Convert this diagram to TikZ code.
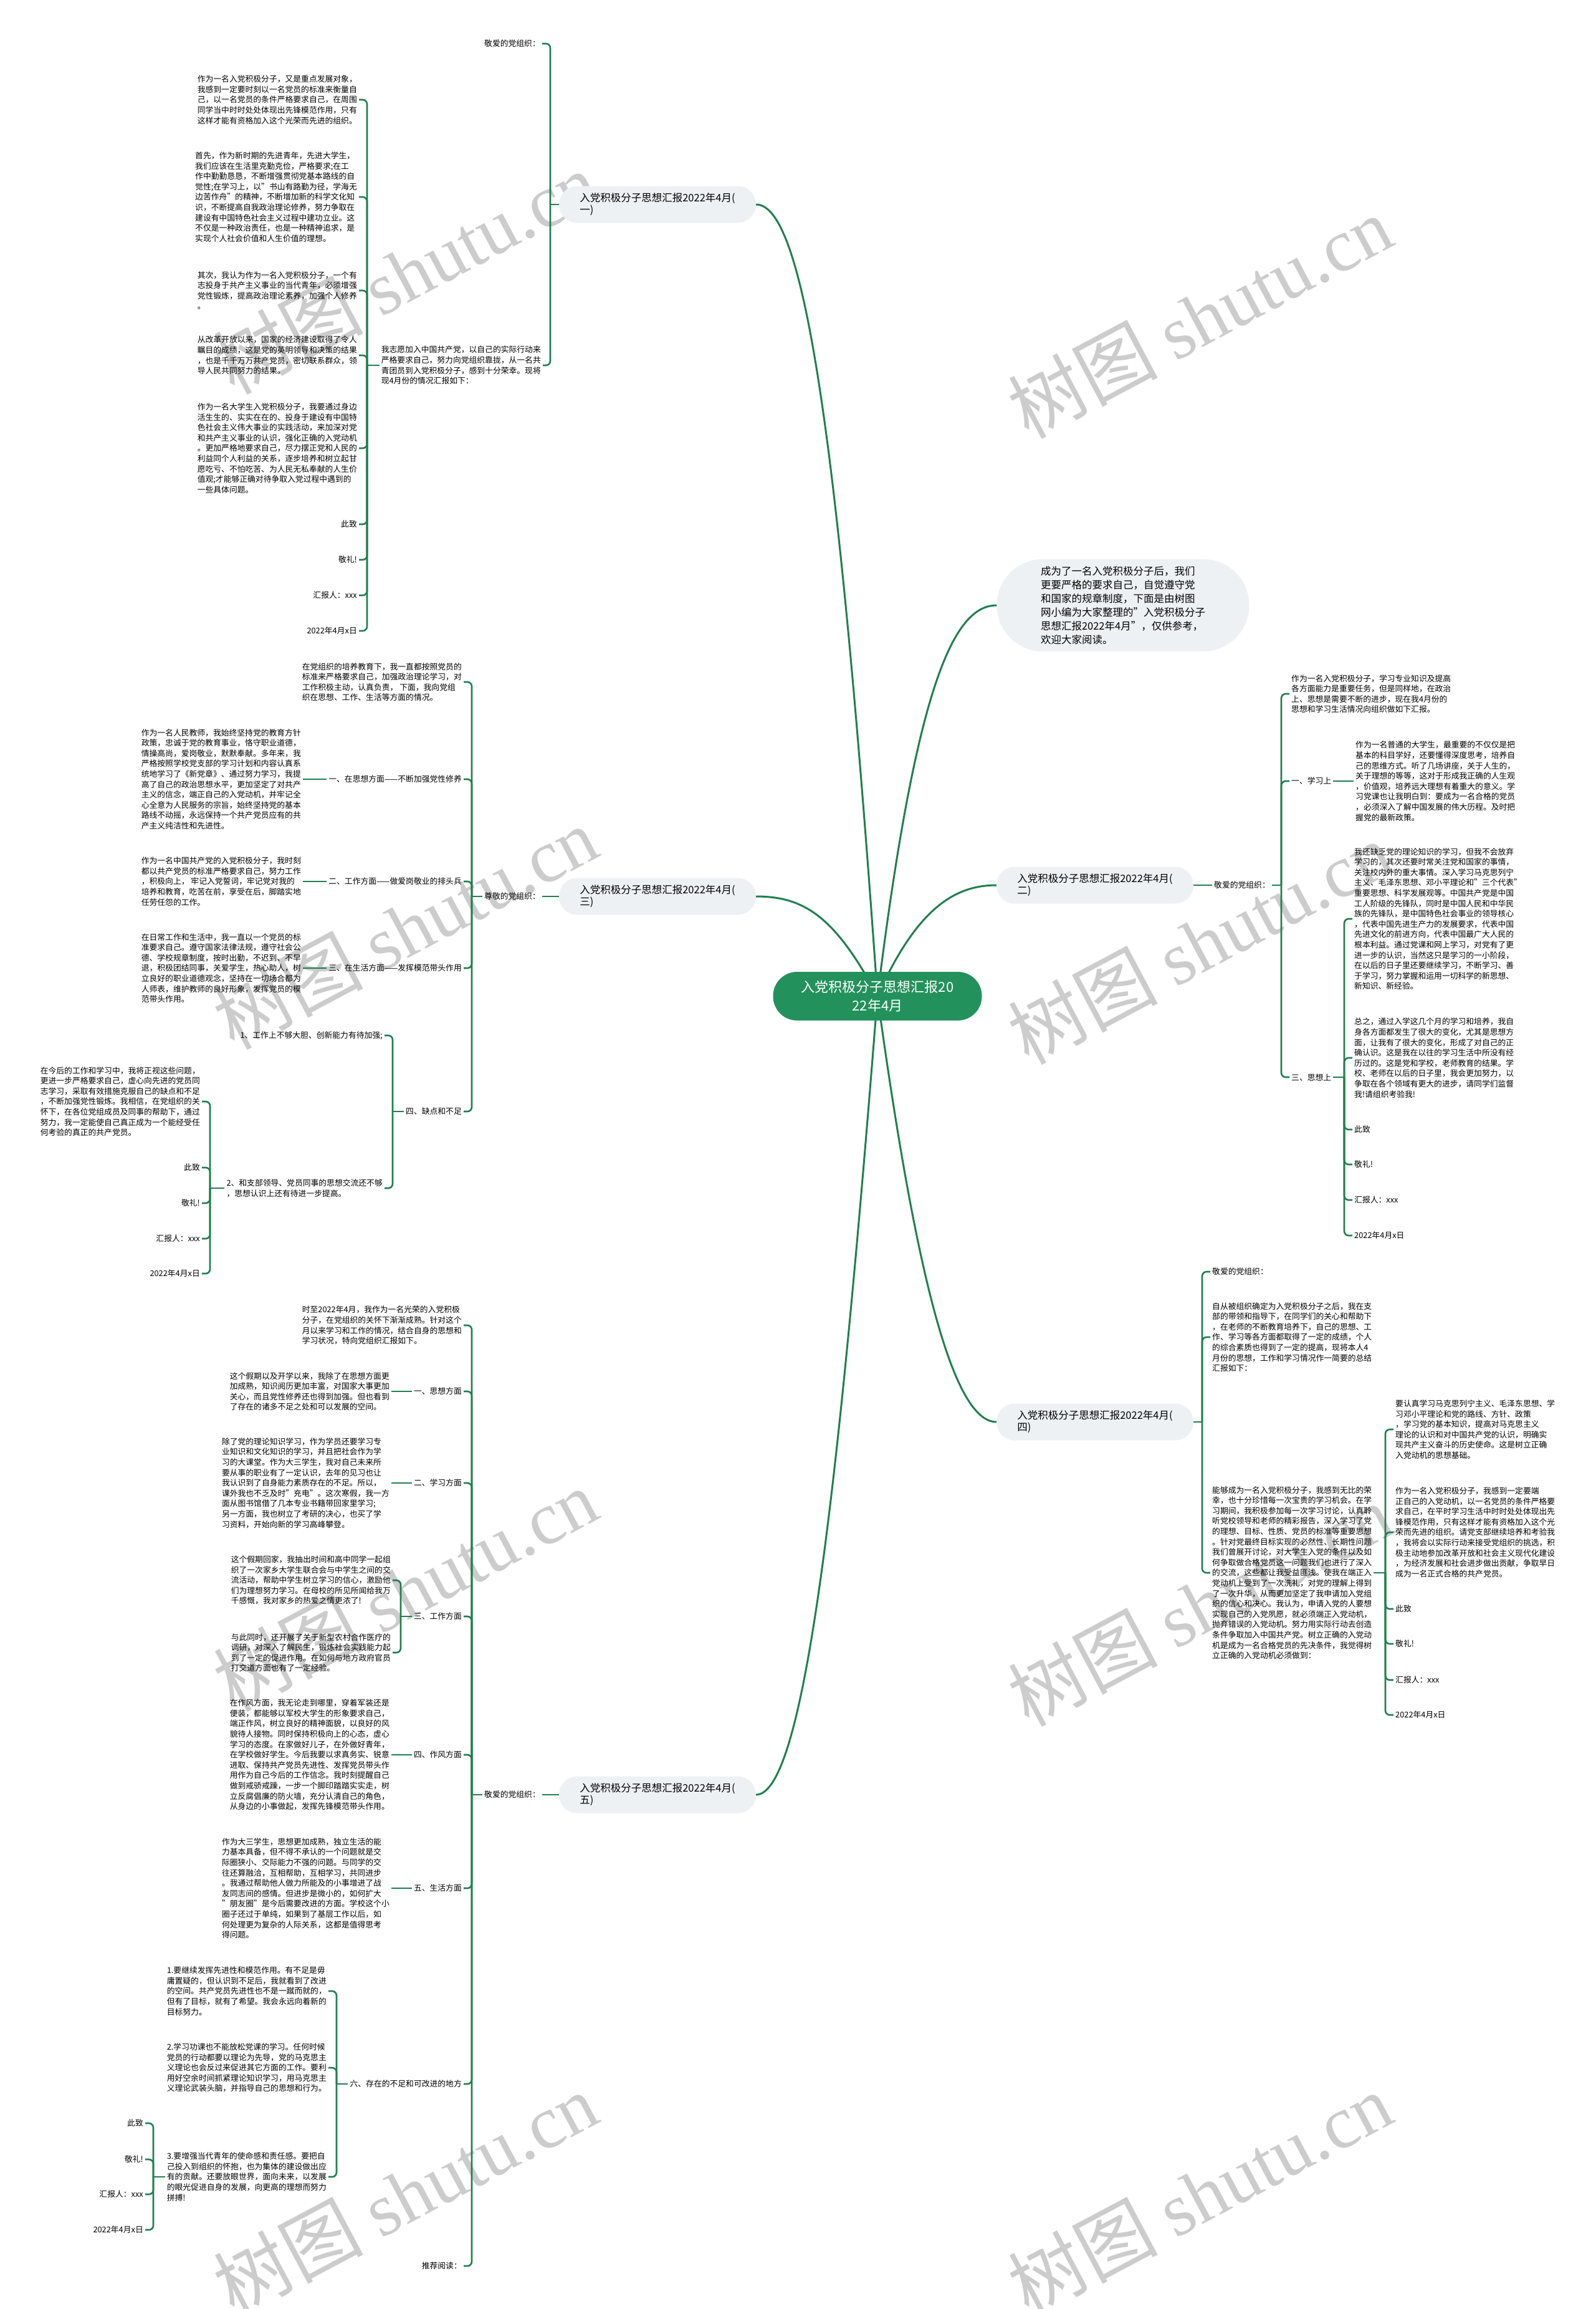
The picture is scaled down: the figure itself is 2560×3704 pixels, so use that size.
\documentclass[tikz,border=0pt]{standalone}
\usepackage{fontspec}
\setmainfont{Noto Sans CJK SC}
\newfontfamily\stampfont{Liberation Serif}
\usetikzlibrary{positioning}
\definecolor{linkgreen}{HTML}{1E7F4F}
\definecolor{hubgreen}{HTML}{23915B}
\definecolor{pillgrey}{HTML}{EEF1F4}

\begin{document}
\begin{tikzpicture}[
    x=1pt, y=-1pt,
    hub/.style={fill=hubgreen, text=white, rounded corners=38.5pt, minimum width=335pt, minimum height=78pt, align=center, font=\fontsize{22}{30}\selectfont},
    branch/.style={fill=pillgrey, rounded corners=29pt, minimum width=316pt, minimum height=59pt, align=left, font=\fontsize{16.5}{19}\selectfont},
    intro/.style={fill=pillgrey, rounded corners=73.5pt, minimum width=405pt, minimum height=148pt, align=left, font=\fontsize{16.5}{22}\selectfont},
    leaf/.style={inner xsep=3pt, inner ysep=2pt, align=left, font=\fontsize{12.8}{16.6}\selectfont},
    link/.style={draw=linkgreen, line width=2.6pt, rounded corners=7pt},
    trunk/.style={draw=linkgreen, line width=3pt},
    stamp/.style={text=black!20, rotate=28, font=\fontsize{120}{130}\selectfont}
  ]
  \useasboundingbox[fill=white] (0,0) rectangle (2560,3704);

  % watermarks
  \foreach \wx/\wy in {650/437, 1925/508, 650/1488, 1925/1512, 650/2550, 1925/2574, 650/3519, 1925/3519}
    \node[stamp] at (\wx,\wy) {树图 {\stampfont shutu.cn}};

  % ---- branch one (top left)
  \node[branch] (b1) at (1055,328) {入党积极分子思想汇报2022年4月(\\一)};
  \node[leaf, anchor=east] (b1g) at (870,70) {敬爱的党组织：};
  \node[leaf, anchor=east] (b1w) at (871,586) {我志愿加入中国共产党，以自己的实际行动来\\严格要求自己，努力向党组织靠拢，从一名共\\青团员到入党积极分子，感到十分荣幸。现将\\现4月份的情况汇报如下：};
  \node[leaf, anchor=east] (b1p1) at (576,160) {作为一名入党积极分子，又是重点发展对象，\\我感到一定要时刻以一名党员的标准来衡量自\\己，以一名党员的条件严格要求自己，在周围\\同学当中时时处处体现出先锋模范作用，只有\\这样才能有资格加入这个光荣而先进的组织。};
  \node[leaf, anchor=east] (b1p2) at (576,316) {首先，作为新时期的先进青年，先进大学生，\\我们应该在生活里克勤克俭，严格要求;在工\\作中勤勤恳恳，不断增强贯彻党基本路线的自\\觉性;在学习上，以"书山有路勤为径，学海无\\边苦作舟"的精神，不断增加新的科学文化知\\识，不断提高自我政治理论修养，努力争取在\\建设有中国特色社会主义过程中建功立业。这\\不仅是一种政治责任，也是一种精神追求，是\\实现个人社会价值和人生价值的理想。};
  \node[leaf, anchor=east] (b1p3) at (576,466) {其次，我认为作为一名入党积极分子，一个有\\志投身于共产主义事业的当代青年，必须增强\\党性锻炼，提高政治理论素养，加强个人修养\\。};
  \node[leaf, anchor=east] (b1p4) at (576,570) {从改革开放以来，国家的经济建设取得了令人\\瞩目的成绩，这是党的英明领导和决策的结果\\，也是千千万万共产党员，密切联系群众，领\\导人民共同努力的结果。};
  \node[leaf, anchor=east] (b1p5) at (576,719) {作为一名大学生入党积极分子，我要通过身边\\活生生的、实实在在的、投身于建设有中国特\\色社会主义伟大事业的实践活动，来加深对党\\和共产主义事业的认识，强化正确的入党动机\\。更加严格地要求自己，尽力摆正党和人民的\\利益同个人利益的关系，逐步培养和树立起甘\\愿吃亏、不怕吃苦、为人民无私奉献的人生价\\值观;才能够正确对待争取入党过程中遇到的\\一些具体问题。};
  \node[leaf, anchor=east] (b1c) at (576,841) {此致};
  \node[leaf, anchor=east] (b1s) at (576,898) {敬礼!};
  \node[leaf, anchor=east] (b1r) at (576,955) {汇报人：xxx};
  \node[leaf, anchor=east] (b1d) at (576,1012) {2022年4月x日};

  \coordinate (b1k) at (883,328);
  \coordinate (b1j) at (589,586);
  \draw[link] (b1.west) -- (b1k);
  \foreach \n in {b1g,b1w}
    \draw[link] (b1k) |- (\n.east);
  \draw[link] (b1w.west) -- (b1j);
  \foreach \n in {b1p1,b1p2,b1p3,b1p4,b1p5,b1c,b1s,b1r,b1d}
    \draw[link] (b1j) |- (\n.east);

  % ---- branch three (middle left)
  \node[branch] (b3) at (1055,1438) {入党积极分子思想汇报2022年4月(\\三)};
  \node[leaf, anchor=east] (b3g) at (870,1438) {尊敬的党组织：};
  \node[leaf, anchor=east] (b3a) at (744,1094) {在党组织的培养教育下，我一直都按照党员的\\标准来严格要求自己，加强政治理论学习，对\\工作积极主动，认真负责， 下面，我向党组\\织在思想、工作、生活等方面的情况。};
  \node[leaf, anchor=east] (b3s1) at (744,1250) {一、在思想方面——不断加强党性修养};
  \node[leaf, anchor=east] (b3s2) at (744,1414) {二、工作方面——做爱岗敬业的排头兵};
  \node[leaf, anchor=east] (b3s3) at (744,1553) {三、在生活方面——发挥模范带头作用};
  \node[leaf, anchor=east] (b3s4) at (744,1783) {四、缺点和不足};
  \node[leaf, anchor=east] (b3t1) at (486,1250) {作为一名人民教师，我始终坚持党的教育方针\\政策，忠诚于党的教育事业，恪守职业道德，\\情操高尚，爱岗敬业，默默奉献。多年来，我\\严格按照学校党支部的学习计划和内容认真系\\统地学习了《新党章》、通过努力学习，我提\\高了自己的政治思想水平，更加坚定了对共产\\主义的信念，端正自己的入党动机，并牢记全\\心全意为人民服务的宗旨，始终坚持党的基本\\路线不动摇，永远保持一个共产党员应有的共\\产主义纯洁性和先进性。};
  \node[leaf, anchor=east] (b3t2) at (486,1414) {作为一名中国共产党的入党积极分子，我时刻\\都以共产党员的标准严格要求自己，努力工作\\，积极向上， 牢记入党誓词，牢记党对我的\\培养和教育，吃苦在前，享受在后，脚踏实地\\任劳任怨的工作。};
  \node[leaf, anchor=east] (b3t3) at (486,1553) {在日常工作和生活中，我一直以一个党员的标\\准要求自己。遵守国家法律法规，遵守社会公\\德、学校规章制度，按时出勤，不迟到、不早\\退，积极团结同事，关爱学生，热心助人，树\\立良好的职业道德观念，坚持在一切场合都为\\人师表，维护教师的良好形象，发挥党员的模\\范带头作用。};
  \node[leaf, anchor=east] (b3f1) at (617,1661) {1、工作上不够大胆、创新能力有待加强;};
  \node[leaf, anchor=east] (b3f2) at (617,1906) {2、和支部领导、党员同事的思想交流还不够\\，思想认识上还有待进一步提高。};
  \node[leaf, anchor=east] (b3e) at (324,1767) {在今后的工作和学习中，我将正视这些问题，\\更进一步严格要求自己，虚心向先进的党员同\\志学习，采取有效措施克服自己的缺点和不足\\，不断加强党性锻炼。我相信，在党组织的关\\怀下，在各位党组成员及同事的帮助下，通过\\努力，我一定能使自己真正成为一个能经受任\\何考验的真正的共产党员。};
  \node[leaf, anchor=east] (b3c) at (324,1873) {此致};
  \node[leaf, anchor=east] (b3s) at (324,1930) {敬礼!};
  \node[leaf, anchor=east] (b3r) at (324,1987) {汇报人：xxx};
  \node[leaf, anchor=east] (b3d) at (324,2043) {2022年4月x日};

  \coordinate (b3k) at (757,1438);
  \coordinate (b3m) at (630,1783);
  \coordinate (b3n) at (337,1906);
  \draw[link] (b3.west) -- (b3g.east);
  \draw[link] (b3g.west) -- (b3k);
  \foreach \n in {b3a,b3s1,b3s2,b3s3,b3s4}
    \draw[link] (b3k) |- (\n.east);
  \draw[link] (b3s1.west) -- (b3t1.east);
  \draw[link] (b3s2.west) -- (b3t2.east);
  \draw[link] (b3s3.west) -- (b3t3.east);
  \draw[link] (b3s4.west) -- (b3m);
  \foreach \n in {b3f1,b3f2}
    \draw[link] (b3m) |- (\n.east);
  \draw[link] (b3f2.west) -- (b3n);
  \foreach \n in {b3e,b3c,b3s,b3r,b3d}
    \draw[link] (b3n) |- (\n.east);

  % ---- branch five (bottom left)
  \node[branch] (b5) at (1055,2879) {入党积极分子思想汇报2022年4月(\\五)};
  \node[leaf, anchor=east] (b5g) at (870,2879) {敬爱的党组织：};
  \node[leaf, anchor=east] (b5a) at (744,2126) {时至2022年4月，我作为一名光荣的入党积极\\分子，在党组织的关怀下渐渐成熟。针对这个\\月以来学习和工作的情况，结合自身的思想和\\学习状况，特向党组织汇报如下。};
  \node[leaf, anchor=east] (b5s1) at (744,2232) {一、思想方面};
  \node[leaf, anchor=east] (b5s2) at (744,2379) {二、学习方面};
  \node[leaf, anchor=east] (b5s3) at (744,2593) {三、工作方面};
  \node[leaf, anchor=east] (b5s4) at (744,2815) {四、作风方面};
  \node[leaf, anchor=east] (b5s5) at (744,3029) {五、生活方面};
  \node[leaf, anchor=east] (b5s6) at (744,3343) {六、存在的不足和可改进的地方};
  \node[leaf, anchor=east] (b5x) at (744,3635) {推荐阅读：};
  \node[leaf, anchor=east] (b5t1) at (628,2232) {这个假期以及开学以来，我除了在思想方面更\\加成熟，知识阅历更加丰富，对国家大事更加\\关心，而且党性修养还也得到加强。但也看到\\了存在的诸多不足之处和可以发展的空间。};
  \node[leaf, anchor=east] (b5t2) at (628,2379) {除了党的理论知识学习，作为学员还要学习专\\业知识和文化知识的学习，并且把社会作为学\\习的大课堂。作为大三学生，我对自己未来所\\要从事的职业有了一定认识，去年的见习也让\\我认识到了自身能力素质存在的不足。所以，\\课外我也不乏及时"充电"。这次寒假，我一方\\面从图书馆借了几本专业书籍带回家里学习;\\另一方面，我也树立了考研的决心，也买了学\\习资料，开始向新的学习高峰攀登。};
  \node[leaf, anchor=east] (b5t3a) at (630,2535) {这个假期回家，我抽出时间和高中同学一起组\\织了一次家乡大学生联合会与中学生之间的交\\流活动，帮助中学生树立学习的信心，激励他\\们为理想努力学习。在母校的所见所闻给我万\\千感慨，我对家乡的热爱之情更浓了!};
  \node[leaf, anchor=east] (b5t3b) at (630,2651) {与此同时，还开展了关于新型农村合作医疗的\\调研，对深入了解民生，锻炼社会实践能力起\\到了一定的促进作用。在如何与地方政府官员\\打交道方面也有了一定经验。};
  \node[leaf, anchor=east] (b5t4) at (628,2815) {在作风方面，我无论走到哪里，穿着军装还是\\便装，都能够以军校大学生的形象要求自己，\\端正作风，树立良好的精神面貌，以良好的风\\貌待人接物。同时保持积极向上的心态，虚心\\学习的态度。在家做好儿子，在外做好青年，\\在学校做好学生。今后我要以求真务实、锐意\\进取、保持共产党员先进性、发挥党员带头作\\用作为自己今后的工作信念。我时刻提醒自己\\做到戒骄戒躁，一步一个脚印踏踏实实走，树\\立反腐倡廉的防火墙，充分认清自己的角色，\\从身边的小事做起，发挥先锋模范带头作用。};
  \node[leaf, anchor=east] (b5t5) at (628,3029) {作为大三学生，思想更加成熟，独立生活的能\\力基本具备，但不得不承认的一个问题就是交\\际圈狭小、交际能力不强的问题。与同学的交\\往还算融洽，互相帮助，互相学习，共同进步\\。我通过帮助他人做力所能及的小事增进了战\\友同志间的感情。但进步是微小的，如何扩大\\"朋友圈"是今后需要改进的方面。学校这个小\\圈子还过于单纯，如果到了基层工作以后，如\\何处理更为复杂的人际关系，这都是值得思考\\得问题。};
  \node[leaf, anchor=east] (b5u1) at (527,3194) {1.要继续发挥先进性和模范作用。有不足是毋\\庸置疑的，但认识到不足后，我就看到了改进\\的空间。共产党员先进性也不是一蹴而就的，\\但有了目标，就有了希望。我会永远向着新的\\目标努力。};
  \node[leaf, anchor=east] (b5u2) at (527,3317) {2.学习功课也不能放松党课的学习。任何时候\\党员的行动都要以理论为先导，党的马克思主\\义理论也会反过来促进其它方面的工作。要利\\用好空余时间抓紧理论知识学习，用马克思主\\义理论武装头脑，并指导自己的思想和行为。};
  \node[leaf, anchor=east] (b5u3) at (527,3492) {3.要增强当代青年的使命感和责任感。要把自\\己投入到组织的怀抱，也为集体的建设做出应\\有的贡献。还要放眼世界，面向未来，以发展\\的眼光促进自身的发展，向更高的理想而努力\\拼搏!};
  \node[leaf, anchor=east] (b5c) at (233,3406) {此致};
  \node[leaf, anchor=east] (b5s) at (233,3464) {敬礼!};
  \node[leaf, anchor=east] (b5r) at (233,3520) {汇报人：xxx};
  \node[leaf, anchor=east] (b5d) at (233,3577) {2022年4月x日};

  \coordinate (b5k) at (757,2879);
  \coordinate (b5m) at (643,2593);
  \coordinate (b5n) at (540,3343);
  \coordinate (b5o) at (246,3492);
  \draw[link] (b5.west) -- (b5g.east);
  \draw[link] (b5g.west) -- (b5k);
  \foreach \n in {b5a,b5s1,b5s2,b5s3,b5s4,b5s5,b5s6,b5x}
    \draw[link] (b5k) |- (\n.east);
  \draw[link] (b5s1.west) -- (b5t1.east);
  \draw[link] (b5s2.west) -- (b5t2.east);
  \draw[link] (b5s4.west) -- (b5t4.east);
  \draw[link] (b5s5.west) -- (b5t5.east);
  \draw[link] (b5s3.west) -- (b5m);
  \foreach \n in {b5t3a,b5t3b}
    \draw[link] (b5m) |- (\n.east);
  \draw[link] (b5s6.west) -- (b5n);
  \foreach \n in {b5u1,b5u2,b5u3}
    \draw[link] (b5n) |- (\n.east);
  \draw[link] (b5u3.west) -- (b5o);
  \foreach \n in {b5c,b5s,b5r,b5d}
    \draw[link] (b5o) |- (\n.east);

  % ---- intro (top right)
  \node[intro] (intro) at (1802,971) {成为了一名入党积极分子后，我们\\更要严格的要求自己，自觉遵守党\\和国家的规章制度，下面是由树图\\网小编为大家整理的"入党积极分子\\思想汇报2022年4月"，仅供参考，\\欢迎大家阅读。};

  % ---- branch two (middle right)
  \node[branch] (b2) at (1757,1420) {入党积极分子思想汇报2022年4月(\\二)};
  \node[leaf, anchor=west] (b2g) at (1945,1420) {敬爱的党组织：};
  \node[leaf, anchor=west] (b2a) at (2069,1113) {作为一名入党积极分子，学习专业知识及提高\\各方面能力是重要任务，但是同样地，在政治\\上、思想是需要不断的进步，现在我4月份的\\思想和学习生活情况向组织做如下汇报。};
  \node[leaf, anchor=west] (b2s1) at (2069,1253) {一、学习上};
  \node[leaf, anchor=west] (b2s3) at (2069,1728) {三、思想上};
  \node[leaf, anchor=west] (b2t1) at (2172,1253) {作为一名普通的大学生，最重要的不仅仅是把\\基本的科目学好，还要懂得深度思考，培养自\\己的思维方式。听了几场讲座，关于人生的，\\关于理想的等等，这对于形成我正确的人生观\\，价值观，培养远大理想有着重大的意义。学\\习党课也让我明白到：要成为一名合格的党员\\，必须深入了解中国发展的伟大历程。及时把\\握党的最新政策。};
  \node[leaf, anchor=west] (b2v1) at (2170,1474) {我还缺乏党的理论知识的学习，但我不会放弃\\学习的，其次还要时常关注党和国家的事情，\\关注校内外的重大事情。深入学习马克思列宁\\主义、毛泽东思想、邓小平理论和"三个代表"\\重要思想、科学发展观等。中国共产党是中国\\工人阶级的先锋队，同时是中国人民和中华民\\族的先锋队，是中国特色社会事业的领导核心\\，代表中国先进生产力的发展要求，代表中国\\先进文化的前进方向，代表中国最广大人民的\\根本利益。通过党课和网上学习，对党有了更\\进一步的认识，当然这只是学习的一小阶段，\\在以后的日子里还要继续学习，不断学习、善\\于学习，努力掌握和运用一切科学的新思想、\\新知识、新经验。};
  \node[leaf, anchor=west] (b2v2) at (2170,1697) {总之，通过入学这几个月的学习和培养，我自\\身各方面都发生了很大的变化，尤其是思想方\\面，让我有了很大的变化，形成了对自己的正\\确认识。这是我在以往的学习生活中所没有经\\历过的。这是党和学校，老师教育的结果。学\\校、老师在以后的日子里，我会更加努力，以\\争取在各个领域有更大的进步，请同学们监督\\我!请组织考验我!};
  \node[leaf, anchor=west] (b2c) at (2170,1812) {此致};
  \node[leaf, anchor=west] (b2s) at (2170,1868) {敬礼!};
  \node[leaf, anchor=west] (b2r) at (2170,1925) {汇报人：xxx};
  \node[leaf, anchor=west] (b2d) at (2170,1982) {2022年4月x日};

  \coordinate (b2k) at (2056,1420);
  \coordinate (b2m) at (2157,1728);
  \draw[link] (b2.east) -- (b2g.west);
  \draw[link] (b2g.east) -- (b2k);
  \foreach \n in {b2a,b2s1,b2s3}
    \draw[link] (b2k) |- (\n.west);
  \draw[link] (b2s1.east) -- (b2t1.west);
  \draw[link] (b2s3.east) -- (b2m);
  \foreach \n in {b2v1,b2v2,b2c,b2s,b2r,b2d}
    \draw[link] (b2m) |- (\n.west);

  % ---- branch four (bottom right)
  \node[branch] (b4) at (1757,2281) {入党积极分子思想汇报2022年4月(\\四)};
  \node[leaf, anchor=west] (b4g) at (1942,2040) {敬爱的党组织：};
  \node[leaf, anchor=west] (b4a) at (1942,2145) {自从被组织确定为入党积极分子之后，我在支\\部的带领和指导下，在同学们的关心和帮助下\\，在老师的不断教育培养下，自己的思想、工\\作、学习等各方面都取得了一定的成绩，个人\\的综合素质也得到了一定的提高，现将本人4\\月份的思想，工作和学习情况作一简要的总结\\汇报如下：};
  \node[leaf, anchor=west] (b4b) at (1942,2523) {能够成为一名入党积极分子，我感到无比的荣\\幸，也十分珍惜每一次宝贵的学习机会。在学\\习期间，我积极参加每一次学习讨论，认真聆\\听党校领导和老师的精彩报告，深入学习了党\\的理想、目标、性质、党员的标准等重要思想\\。针对党最终目标实现的必然性、长期性问题\\我们曾展开讨论，对大学生入党的条件以及如\\何争取做合格党员这一问题我们也进行了深入\\的交流，这些都让我受益匪浅。使我在端正入\\党动机上受到了一次洗礼，对党的理解上得到\\了一次升华，从而更加坚定了我申请加入党组\\织的信心和决心。我认为，申请入党的人要想\\实现自己的入党夙愿，就必须端正入党动机，\\抛弃错误的入党动机。努力用实际行动去创造\\条件争取加入中国共产党。树立正确的入党动\\机是成为一名合格党员的先决条件，我觉得树\\立正确的入党动机必须做到：};
  \node[leaf, anchor=west] (b4n1) at (2236,2293) {要认真学习马克思列宁主义、毛泽东思想、学\\习邓小平理论和党的路线、方针、政策\\，学习党的基本知识，提高对马克思主义\\理论的认识和对中国共产党的认识，明确实\\现共产主义奋斗的历史使命。这是树立正确\\入党动机的思想基础。};
  \node[leaf, anchor=west] (b4n2) at (2236,2458) {作为一名入党积极分子，我感到一定要端\\正自己的入党动机，以一名党员的条件严格要\\求自己，在平时学习生活中时时处处体现出先\\锋模范作用，只有这样才能有资格加入这个光\\荣而先进的组织。请党支部继续培养和考验我\\，我将会以实际行动来接受党组织的挑选，积\\极主动地参加改革开放和社会主义现代化建设\\，为经济发展和社会进步做出贡献，争取早日\\成为一名正式合格的共产党员。};
  \node[leaf, anchor=west] (b4c) at (2236,2581) {此致};
  \node[leaf, anchor=west] (b4s) at (2236,2637) {敬礼!};
  \node[leaf, anchor=west] (b4r) at (2236,2695) {汇报人：xxx};
  \node[leaf, anchor=west] (b4d) at (2236,2751) {2022年4月x日};

  \coordinate (b4k) at (1929,2281);
  \coordinate (b4m) at (2223,2523);
  \draw[link] (b4.east) -- (b4k);
  \foreach \n in {b4g,b4a,b4b}
    \draw[link] (b4k) |- (\n.west);
  \draw[link] (b4b.east) -- (b4m);
  \foreach \n in {b4n1,b4n2,b4c,b4s,b4r,b4d}
    \draw[link] (b4m) |- (\n.west);

  % ---- centre and main curves
  \coordinate (hc) at (1408,1598);
  \draw[trunk] (hc) .. controls (1345,700) and (1290,328) .. (b1.east);
  \draw[trunk] (hc) .. controls (1340,1470) and (1290,1438) .. (b3.east);
  \draw[trunk] (hc) .. controls (1345,2400) and (1290,2879) .. (b5.east);
  \draw[trunk] (hc) .. controls (1470,1100) and (1530,971) .. (intro.west);
  \draw[trunk] (hc) .. controls (1470,1460) and (1530,1420) .. (b2.west);
  \draw[trunk] (hc) .. controls (1470,2050) and (1530,2281) .. (b4.west);
  \node[hub] (hub) at (hc) {入党积极分子思想汇报20\\22年4月};
\end{tikzpicture}
\end{document}
